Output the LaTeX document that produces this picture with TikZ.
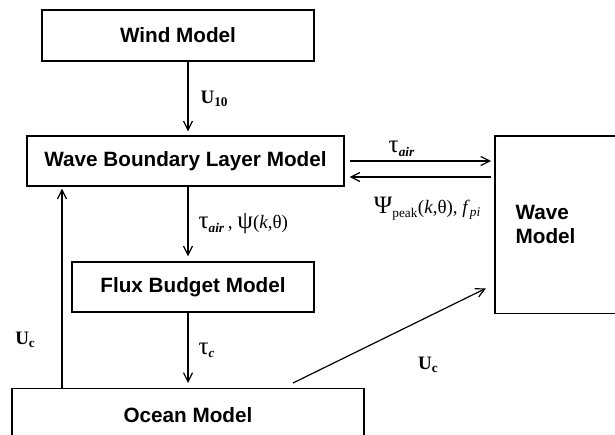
\documentclass[tikz,border=0pt]{standalone}
\usepackage{fontspec}
\setmainfont{Liberation Serif}
\newfontfamily\kastenfont{Liberation Sans}
\usetikzlibrary{arrows.meta}
\tikzset{
	modell/.style={draw, line width=1.3pt, inner sep=0pt, font=\kastenfont\bfseries\fontsize{20.7}{24}\selectfont},
	pfeil/.style={line width=1.2pt, -{Straight Barb[length=9pt,width=9pt,line width=1.2pt]}},
	beschr/.style={inner sep=0pt, font=\fontsize{19}{21}\selectfont}
}
\newcommand{\grk}[1]{{\fontsize{25}{25}\selectfont #1}}
\newcommand{\vel}[1]{\textbf{U}\textsubscript{\textbf{#1}}}
\newcommand{\tauair}{\grk{τ}\textsubscript{\textbf{\textit{air}}}}

\begin{document}
\begin{tikzpicture}[x=1pt,y=-1pt]
			\useasboundingbox (0,0) rectangle (615,435);

			%%Kaesten
			\node[modell, minimum width=272pt, minimum height=51pt] (wind) at (178,35.5) {Wind Model};
			\node[modell, minimum width=317pt, minimum height=50pt] (wbl) at (185.5,161) {Wave Boundary Layer Model};
			\node[modell, minimum width=242pt, minimum height=50pt] (flux) at (193,287) {Flux Budget Model};
			\node[modell, minimum width=352pt, minimum height=52pt, anchor=north] (ocean) at (188,388) {Ocean Model};
			\node[modell, draw=none, minimum height=176pt, text width=100pt, inner xsep=20pt, align=left, anchor=north west] (wave) at (495,136) {Wave\\Model};
			%% rechts offen
			\draw[line width=1.3pt] (wave.north west) ++(140,0) -- (wave.north west) -- (wave.south west) -- ++(140,0);

			%%Hilfspunkte
			\coordinate (mitte) at (188,0);
			\coordinate (links) at (62,0);
			\coordinate (hin) at (0,161);
			\coordinate (zurueck) at (0,177);

			%%Pfeile
			\draw[pfeil, shorten >=4pt] (wind.south -| mitte) -- (wbl.north -| mitte)
				node[beschr, pos=0.5, anchor=west, xshift=12pt] {\vel{10}};
			\draw[pfeil, shorten >=5pt] (wbl.south -| mitte) -- (flux.north -| mitte)
				node[beschr, pos=0.5, anchor=west, xshift=10pt] {\tauair\,, \grk{ψ}(\textit{k},θ)};
			\draw[pfeil, shorten >=5pt] (flux.south -| mitte) -- (ocean.north -| mitte)
				node[beschr, pos=0.5, anchor=west, xshift=10pt] {\grk{τ}\textsubscript{\textbf{\textit{c}}}};
			\draw[pfeil, shorten >=2pt] (ocean.north -| links) -- (wbl.south -| links)
				node[beschr, pos=0.24, anchor=east, xshift=-26pt] {\vel{c}};
			\draw[pfeil, shorten <=5pt, shorten >=4pt] (wbl.east |- hin) -- (wave.west |- hin)
				node[beschr, pos=0.38, anchor=south, yshift=4pt] {\tauair};
			\draw[pfeil, shorten <=4pt, shorten >=5pt] (wave.west |- zurueck) -- (wbl.east |- zurueck)
				node[beschr, pos=0.45, anchor=north, yshift=-20pt] {\grk{Ψ}\textsubscript{peak}(\textit{k},θ), \textit{f}\textsubscript{\textit{pi}}};
			\draw[pfeil] ([shift={(105,-5)}]ocean.north) -- ([shift={(-9,-25)}]wave.south west)
				node[beschr, pos=0.7, anchor=north, yshift=-40pt] {\vel{c}};
		\end{tikzpicture}
\end{document}
